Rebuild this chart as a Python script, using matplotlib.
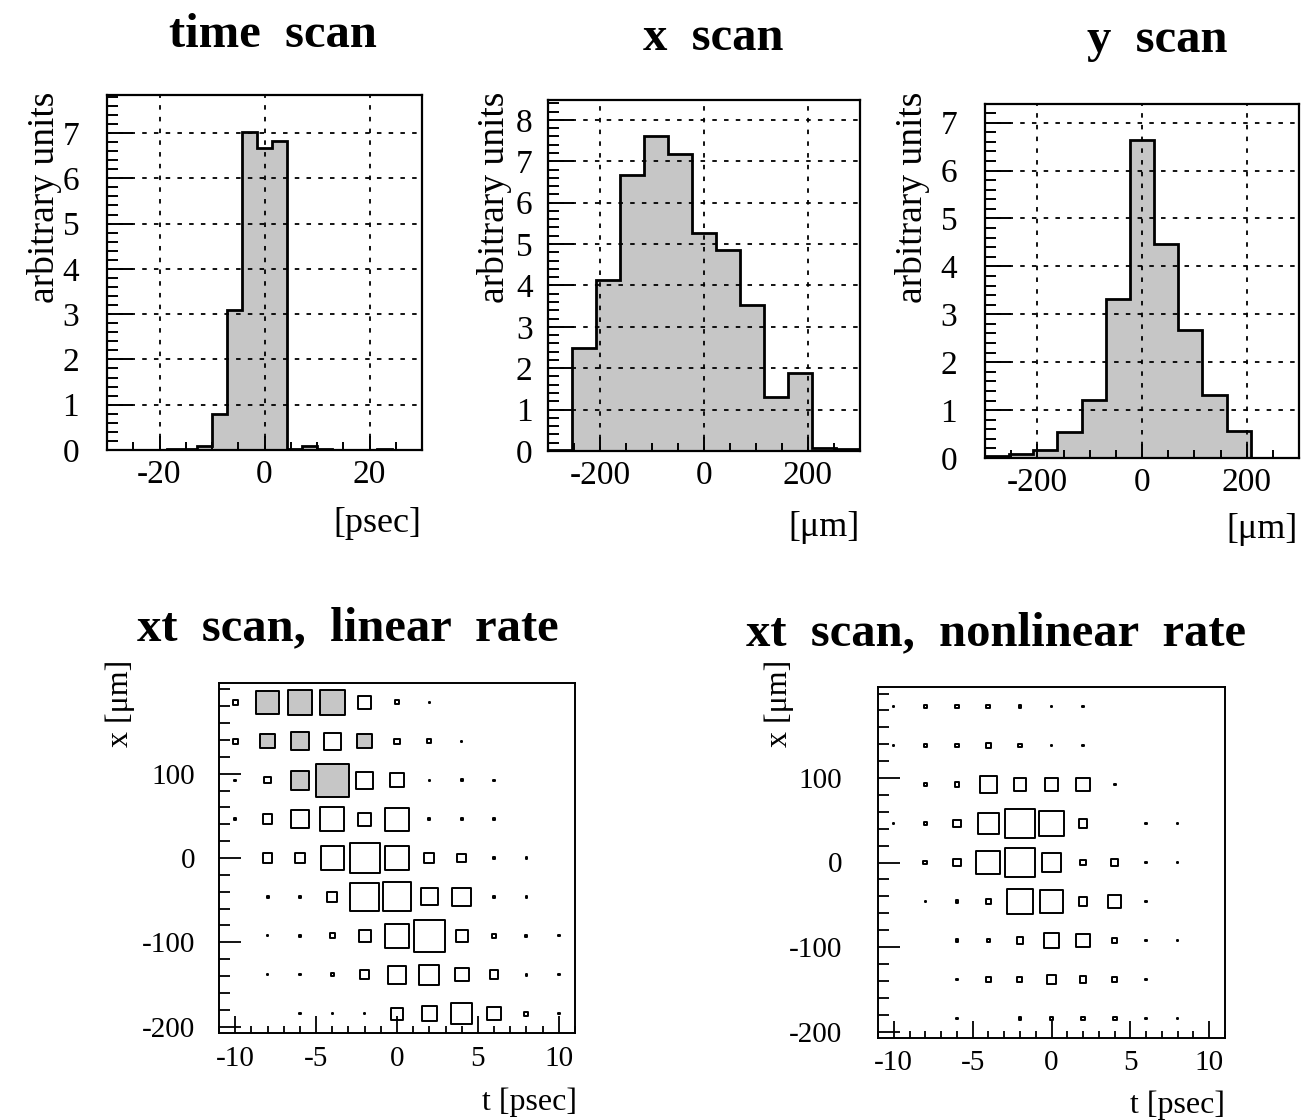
import numpy as np
import matplotlib
matplotlib.use('Agg')
import matplotlib.pyplot as plt
from matplotlib.ticker import MultipleLocator, FixedLocator

plt.rcParams['font.family'] = ['Liberation Serif', 'DejaVu Serif']
plt.rcParams['axes.unicode_minus'] = False

# ---- data ----
# time scan: 21 bins over [-30, 30] psec
time_counts = [0.0, 0.0, 0.01, 0.01, 0.02, 0.03, 0.09, 0.79, 3.10, 7.02, 6.67,
               6.83, 0.03, 0.09, 0.02, 0.01, 0.01, 0.0, 0.02, 0.0, 0.0]
# x scan: 13 bins over [-300, 300] um
x_counts = [0.03, 2.50, 4.13, 6.67, 7.61, 7.17, 5.26, 4.86, 3.53, 1.31, 1.88, 0.08, 0.04]
# y scan: 13 bins over [-300, 300] um
y_counts = [0.05, 0.09, 0.17, 0.54, 1.21, 3.32, 6.64, 4.46, 2.68, 1.32, 0.56, 0.0, 0.0]

# xt scans: rows x = +184 ... -184 um, columns t = -10 ... 10 psec
t_centers = [-10, -8, -6, -4, -2, 0, 2, 4, 6, 8, 10]
x_rows = [4, 3, 2, 1, 0, -1, -2, -3, -4]   # in units of the x bin width
x_bin = 600 / 13

lin_rate = [
    [15, 65, 72, 72, 40, 12, 5, 0, 0, 0, 0],
    [15, 42, 52, 50, 42, 15, 12, 3, 0, 0, 0],
    [4, 18, 55, 98, 50, 42, 3, 6, 2, 0, 0],
    [4, 28, 52, 70, 38, 68, 6, 5, 3, 0, 0],
    [0, 28, 28, 68, 88, 68, 30, 25, 4, 3, 0],
    [0, 6, 3, 30, 83, 85, 50, 55, 3, 3, 0],
    [0, 3, 6, 15, 35, 72, 93, 35, 12, 6, 3],
    [0, 3, 3, 8, 28, 52, 58, 40, 25, 5, 4],
    [0, 0, 5, 3, 5, 35, 42, 62, 40, 12, 3],
]
lin_shaded = [(0, 1), (0, 2), (0, 3), (1, 1), (1, 2), (1, 4), (2, 2), (2, 3)]

nonlin_rate = [
    [3, 8, 12, 12, 7, 5, 2, 0, 0, 0, 0],
    [3, 10, 10, 15, 10, 6, 6, 0, 0, 0, 0],
    [0, 9, 14, 50, 38, 40, 40, 6, 0, 0, 0],
    [2, 10, 22, 62, 90, 78, 25, 0, 3, 3, 0],
    [0, 12, 22, 72, 90, 55, 18, 20, 2, 3, 0],
    [0, 4, 8, 15, 78, 72, 25, 38, 3, 0, 0],
    [0, 0, 7, 10, 20, 45, 42, 15, 3, 2, 0],
    [0, 0, 3, 15, 15, 25, 20, 15, 5, 0, 0],
    [0, 0, 3, 0, 8, 10, 10, 12, 4, 2, 0],
]

W, H = 1305, 1120
DPI = 100
fig = plt.figure(figsize=(W / DPI, H / DPI), dpi=DPI)


def box(x0, y0, x1, y1):
    return [x0 / W, 1 - y1 / H, (x1 - x0) / W, (y1 - y0) / H]


FILL = '#c6c6c6'
dots = (0, (2.5, 4))


def hist_panel(rect, counts, lo, hi, ylim, xmaj, xmin, ypad, unit, ylab_x, unit_xy):
    ax = fig.add_axes(rect)
    edges = np.linspace(lo, hi, len(counts) + 1)
    ax.stairs(counts, edges, fill=True, color=FILL, zorder=1)
    ax.stairs(counts, edges, color='black', lw=2.0, zorder=3)
    ax.set_xlim(lo, hi)
    ax.set_ylim(0, ylim)
    ax.xaxis.set_major_locator(MultipleLocator(xmaj))
    ax.xaxis.set_minor_locator(MultipleLocator(xmin))
    ax.yaxis.set_major_locator(MultipleLocator(1))
    ax.yaxis.set_minor_locator(MultipleLocator(0.2))
    ax.set_axisbelow(False)
    ax.grid(True, which='major', color='black', linestyle=dots, lw=1.3)
    ax.tick_params(which='both', direction='in', top=False, right=False,
                   labelsize=24, width=1.4)
    ax.tick_params(axis='y', which='major', length=19, pad=ypad)
    ax.tick_params(axis='y', which='minor', length=8)
    ax.tick_params(axis='x', which='major', length=10, pad=7)
    ax.tick_params(axis='x', which='minor', length=6)
    for s in ax.spines.values():
        s.set_linewidth(1.6)
    fig.text(ylab_x / W, 1 - 92 / H, 'arbitrary units', rotation=90,
             ha='center', va='top', fontsize=27)
    fig.text(unit_xy[0] / W, 1 - unit_xy[1] / H, unit, ha='right',
             va='center', fontsize=26)
    return ax


hist_panel(box(107, 95, 422, 450), time_counts, -30, 30, 7.84, 20, 5, 20,
           '[psec]', 45, (421, 523))
hist_panel(box(548, 100, 860, 451), x_counts, -300, 300, 8.48, 200, 50, 11,
           '[μm]', 494, (860, 527))
hist_panel(box(985, 104, 1299, 458), y_counts, -300, 300, 7.39, 200, 50, 20,
           '[μm]', 913, (1298, 530))


def box_panel(rect, rates, shaded, ypad, ylab_x, unit_xy):
    ax = fig.add_axes(rect)
    ax.set_xlim(-11, 11)
    ax.set_ylim(-4.5 * x_bin, 4.5 * x_bin)
    cell_px = rect[2] * W / 22 * 2
    tt, xx, ss, fc = [], [], [], []
    for i, row in enumerate(rates):
        for j, v in enumerate(row):
            if v <= 0:
                continue
            side_pt = max(v / 95 * cell_px, 1.4) * 72 / DPI
            tt.append(t_centers[j])
            xx.append(x_rows[i] * x_bin)
            ss.append(side_pt ** 2)
            fc.append(FILL if (i, j) in shaded else 'none')
    ax.scatter(tt, xx, s=ss, marker='s', facecolors=fc, edgecolors='black',
               linewidths=1.4, zorder=3)
    ax.xaxis.set_major_locator(MultipleLocator(5))
    ax.xaxis.set_minor_locator(MultipleLocator(1))
    ax.yaxis.set_major_locator(FixedLocator([-200, -100, 0, 100]))
    ax.yaxis.set_minor_locator(MultipleLocator(20))
    ax.tick_params(which='both', direction='in', top=False, right=False,
                   labelsize=21, width=1.3)
    ax.tick_params(axis='y', which='major', length=16, pad=ypad)
    ax.tick_params(axis='y', which='minor', length=8)
    ax.tick_params(axis='x', which='major', length=12, pad=9)
    ax.tick_params(axis='x', which='minor', length=5)
    for s in ax.spines.values():
        s.set_linewidth(1.4)
    fig.text(ylab_x / W, 1 - 660 / H, 'x [μm]', rotation=90,
             ha='center', va='top', fontsize=23)
    fig.text(unit_xy[0] / W, 1 - unit_xy[1] / H, 't [psec]', ha='right',
             va='center', fontsize=23)
    return ax


box_panel(box(219, 683, 575, 1033), lin_rate, lin_shaded, 17, 120, (577, 1102))
box_panel(box(878, 687, 1225, 1038), nonlin_rate, [], 26, 779, (1225, 1105))

# titles
tkw = dict(ha='center', va='baseline', fontsize=35, fontweight='bold')
fig.text(273 / W, 1 - 47 / H, 'time  scan', **tkw)
fig.text(713 / W, 1 - 50 / H, 'x  scan', **tkw)
fig.text(1157 / W, 1 - 52 / H, 'y  scan', **tkw)
fig.text(348 / W, 1 - 640 / H, 'xt  scan,  linear  rate', **tkw)
fig.text(996 / W, 1 - 645 / H, 'xt  scan,  nonlinear  rate', **tkw)

fig.savefig('out.png', dpi=DPI)
